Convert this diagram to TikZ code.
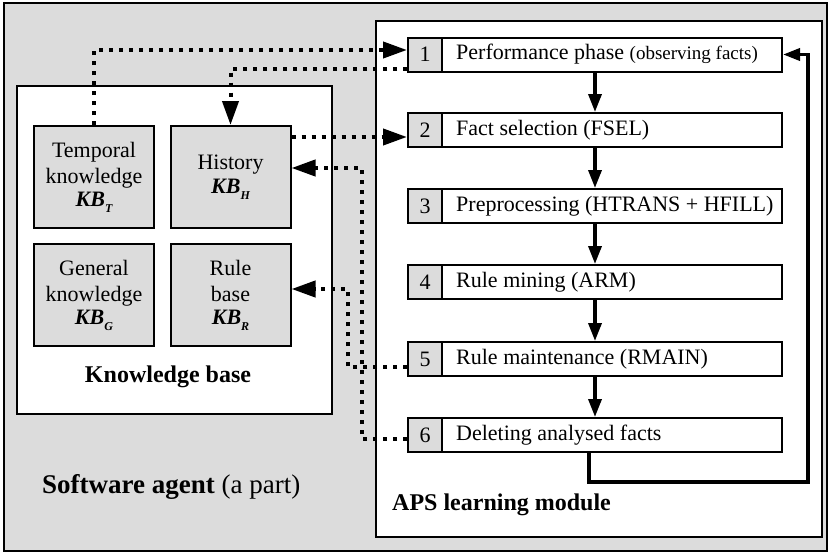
\documentclass[tikz,border=0pt]{standalone}
\usepackage{fontspec}
\setmainfont{Liberation Serif}
\usetikzlibrary{arrows.meta,calc}
\definecolor{panelgray}{RGB}{220,220,220}
% bold italic KB with a lowered subscript letter
\newcommand{\kbsub}[1]{{\bfseries\itshape KB\raisebox{-6pt}{\fontsize{12}{12}\selectfont #1}}}

\begin{document}
\begin{tikzpicture}[x=1pt,y=-1pt,
  frame/.style={draw=black,line width=2pt},
  kbbox/.style={frame,fill=panelgray,minimum width=120pt,minimum height=102pt,
    align=center,inner sep=0pt,font=\fontsize{22}{26}\selectfont},
  stepbox/.style={frame,fill=white,minimum width=374pt,minimum height=34pt,inner sep=0pt},
  numcell/.style={frame,fill=panelgray,minimum width=34pt,minimum height=34pt,
    inner sep=0pt,font=\fontsize{22}{26}\selectfont},
  steptext/.style={anchor=west,inner sep=0pt,font=\fontsize{22}{26}\selectfont},
  flow/.style={line width=3.5pt,-{Triangle[length=18pt,width=13pt]}},
  link/.style={line width=4pt,dash pattern=on 4pt off 6pt,
    -{Triangle[length=24pt,width=16pt]}},
  ]
\useasboundingbox (0,0) rectangle (830,554);

% software agent frame
\draw[frame,fill=panelgray] (4,3) rectangle (827,551);

% knowledge base panel
\draw[frame,fill=white] (17,86) rectangle (332,414);
\node[kbbox] (tk)   at (94,177)    {Temporal\\knowledge\\[-3pt]\kbsub{T}};
\node[kbbox] (hist) at (230.5,177) {History\\[-2pt]\kbsub{H}};
\node[kbbox] (gen)  at (94,295)    {General\\knowledge\\[-3pt]\kbsub{G}};
\node[kbbox] (rule) at (230.5,295) {Rule\\base\\[-3pt]\kbsub{R}};
\node[anchor=base,inner sep=0pt,font=\fontsize{24}{28}\selectfont\bfseries] (kblabel)
  at (168,382) {Knowledge base};

% APS learning module panel
\draw[frame,fill=white] (376,21) rectangle (822,537);
\foreach \i/\y/\txt in {
  1/54.5/{Performance phase {\fontsize{19}{22}\selectfont(observing facts)}},
  2/130/{Fact selection (FSEL)},
  3/206/{Preprocessing (HTRANS + HFILL)},
  4/282/{Rule mining (ARM)},
  5/359/{Rule maintenance (RMAIN)},
  6/435/{Deleting analysed facts}} {
  \node[stepbox] (s\i) at (595,\y) {};
  \node[numcell,anchor=west] (n\i) at (s\i.west) {\i};
  \node[steptext] (t\i) at ([xshift=13pt]n\i.east) {\txt};
}
\node[anchor=base west,inner sep=0pt,font=\fontsize{24}{28}\selectfont\bfseries] (apslabel)
  at (392,510) {APS learning module};

% step sequence
\foreach \a/\b in {1/2,2/3,3/4,4/5,5/6}
  \draw[flow] (s\a.south) -- (s\b.north);

% return from the last step to the first
\coordinate (loopcorner) at (808,482);
\draw[line width=3.5pt,-{Triangle[length=17pt,width=12pt]}]
  ([xshift=-6pt]s6.south) |- (loopcorner) |- (s1.east);

% exchanges with the knowledge base
\draw[link] (tk.north) |- ([yshift=4.5pt]s1.west);
\draw[link] ([yshift=-14.5pt]s1.west) -| (hist.north);
\coordinate (c3) at ([yshift=-7pt]s2.west);
\draw[link] (hist.east |- c3) -- (c3);
\coordinate (bend5) at (348,289);
\draw[link] ([yshift=-8pt]s5.west) -| (bend5) -- (rule.east |- bend5);
\coordinate (bend6) at (362,168);
\draw[link] ([yshift=-4pt]s6.west) -| (bend6) -- (hist.east |- bend6);

% caption of the agent
\node[anchor=base west,inner sep=0pt,font=\fontsize{27}{32}\selectfont] (agentlabel)
  at (42,493) {\textbf{Software agent} (a part)};
\end{tikzpicture}
\end{document}
